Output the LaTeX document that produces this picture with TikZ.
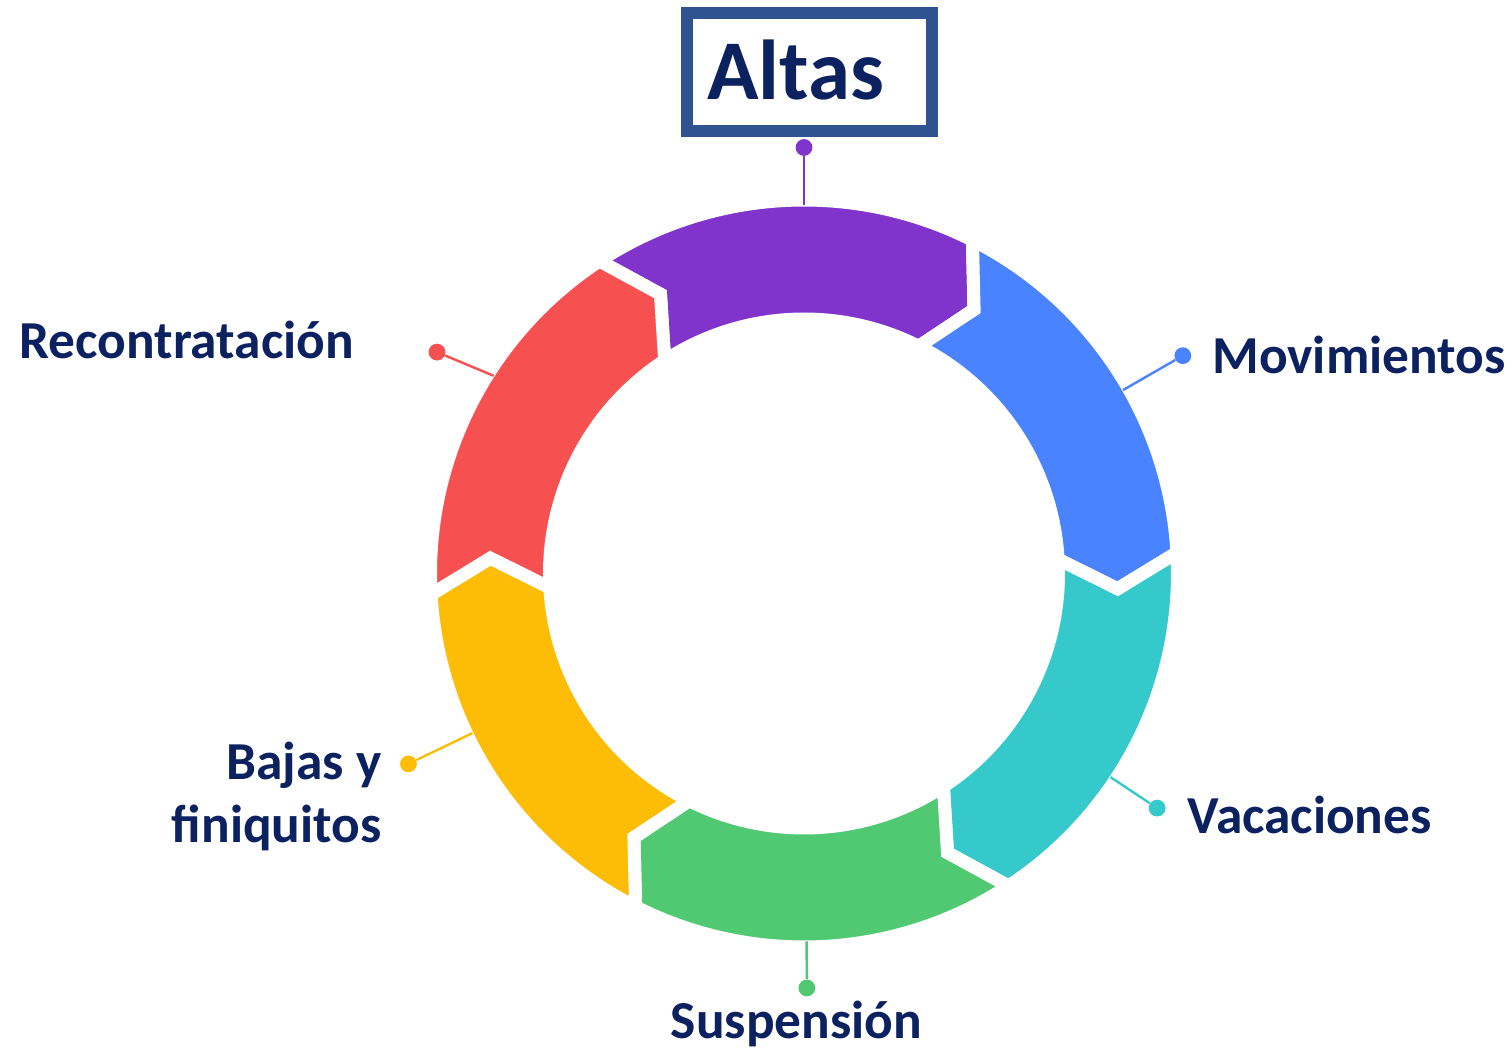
\documentclass[tikz,border=0pt]{standalone}
\usepackage{fontspec}
\setmainfont{Carlito}
\usepackage{tikz}
\usetikzlibrary{positioning,calc}
\definecolor{navy}{RGB}{12,33,96}
\definecolor{boxblue}{RGB}{47,82,144}
\definecolor{cpurple}{RGB}{128,52,204}
\definecolor{cblue}{RGB}{74,131,255}
\definecolor{cteal}{RGB}{54,201,204}
\definecolor{cgreen}{RGB}{81,201,115}
\definecolor{cyellow}{RGB}{253,189,7}
\definecolor{cred}{RGB}{246,80,80}

\begin{document}
\begin{tikzpicture}[
x=0.5pt, y=0.5pt,
font=\bfseries\fontsize{26.7}{31.5}\selectfont,
tag/.style={text=navy, inner sep=0pt},
box/.style={draw=boxblue, line width=6pt, text=navy, font=\bfseries\fontsize{42.5}{50}\selectfont,
    text width=102.5pt, align=left, inner xsep=10pt, inner ysep=0pt,
    text height=27.5pt, text depth=0pt, minimum height=59pt},
dot/.style={circle, fill=#1, inner sep=0pt, minimum size=8.4pt},
link/.style={draw=#1, line width=1.2pt},
seg/.style={fill=#1, draw=white, line width=6.5pt, line join=miter}]
    \useasboundingbox (0,0) rectangle (1512,1055);
    \coordinate (O) at (804,481.5);

    % Draw ring
    \foreach \a/\col in {123.2/cpurple, 63.2/cblue, 3.2/cteal, -56.8/cgreen, -116.8/cyellow, -176.8/cred}
        \draw[seg=\col] ($(O)+(\a:373.5)$) arc[start angle=\a, end angle=\a-60, radius=373.5]
            -- ($(O)+(\a-66:314)$) -- ($(O)+(\a-60:254.5)$)
            arc[start angle=\a-60, end angle=\a, radius=254.5]
            -- ($(O)+(\a-6:314)$) -- cycle;

    % Points on the ring
    \draw
        ($(O)+(90:368)$) coordinate (rAltas)
        ($(O)+(29.9:368)$) coordinate (rMov)
        ($(O)+(-33.6:368)$) coordinate (rVac)
        ($(O)+(-89.6:368)$) coordinate (rSus)
        ($(O)+(205.7:368)$) coordinate (rBaj)
        ($(O)+(147.5:368)$) coordinate (rRec);

    % Dots
    \node (dAltas) [dot=cpurple] at ($(O)+(90:426)$) {};
    \node (dMov) [dot=cblue] at ($(O)+(29.9:437)$) {};
    \node (dVac) [dot=cteal] at ($(O)+(-33.6:424)$) {};
    \node (dSus) [dot=cgreen] at ($(O)+(-89.6:414.5)$) {};
    \node (dBaj) [dot=cyellow] at ($(O)+(205.7:439)$) {};
    \node (dRec) [dot=cred] at ($(O)+(148.9:428.6)$) {};

    \draw[link=cpurple] (dAltas) -- (rAltas);
    \draw[link=cblue] (dMov) -- (rMov);
    \draw[link=cteal] (dVac) -- (rVac);
    \draw[link=cgreen] (dSus) -- (rSus);
    \draw[link=cyellow] (dBaj) -- (rBaj);
    \draw[link=cred] (dRec) -- (rRec);

    % Labels
    \node (altas) [box] at (809.5,983) {Altas};
    \node (movim) [tag, anchor=base west] at (1212,681) {Movimientos};
    \node (vacac) [tag, anchor=base west] at (1187,221) {Vacaciones};
    \node (suspen) [tag, anchor=base] at (796.5,16) {Suspensión};
    \node (bajas) [tag, anchor=base east, align=right] at (382,212) {Bajas y\\finiquitos};
    \node (recon) [tag, anchor=base west] at (19,696) {Recontratación};

\end{tikzpicture}
\end{document}
